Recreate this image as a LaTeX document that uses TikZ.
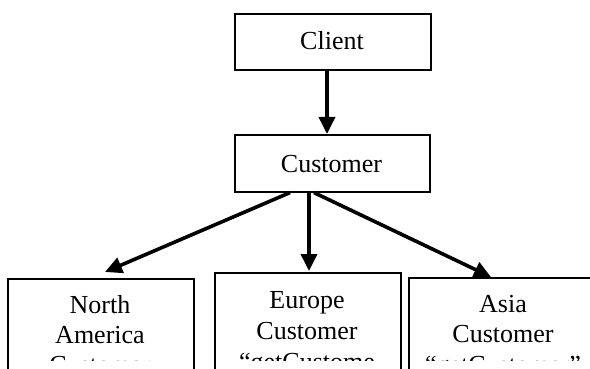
\documentclass[tikz,border=0pt]{standalone}
\usepackage{fontspec}
\setmainfont{Liberation Serif}
\usetikzlibrary{arrows.meta}
\tikzset{
  boxnode/.style={draw=black, line width=1.6pt, fill=white, inner sep=0pt, anchor=north west},
  txt/.style={inner sep=0pt, anchor=base, font=\fontsize{26}{30}\selectfont},
  conn/.style={line width=3.6pt, -{Triangle[length=17pt,width=16pt]}}
}
\begin{document}
\begin{tikzpicture}[x=1pt,y=-1pt]
\useasboundingbox (0,0) rectangle (590,369);
\clip (0,0) rectangle (590,369);
\fill[white] (0,0) rectangle (590,369);
% boxes
\node[boxnode, minimum width=196pt, minimum height=56pt] (client) at (234,13) {};
\node[boxnode, minimum width=195pt, minimum height=57pt] (cust) at (234,134) {};
\node[boxnode, minimum width=186pt, minimum height=200pt] (na) at (7,278) {};
\node[boxnode, minimum width=186pt, minimum height=200pt] (eu) at (214,272) {};
\node[boxnode, minimum width=190pt, minimum height=200pt] (as) at (408,277) {};
% top texts
\node[txt] (tclient) at (332,50) {Client};
\node[txt] (tcust) at (331.5,172) {Customer};
% bottom texts, clipped like the text boxes
\begin{scope}
\clip (0,0) rectangle (590,360);
\node[txt] (na1) at (100,313) {North};
\node[txt] (na2) at (100,343) {America};
\node[txt] (na3) at (100,373) {Customer};
\node[txt] (eu1) at (307,308) {Europe};
\node[txt] (eu2) at (307,339) {Customer};
\node[txt] (eu3) at (307,370) {“getCustome};
\node[txt] (as1) at (503,312) {Asia};
\node[txt] (as2) at (503,342) {Customer};
\node[txt] (as3) at (503,373) {“getCustomer”};
\end{scope}
% connectors
\draw[conn] ([xshift=93pt]client.south west) -- ([xshift=93pt]cust.north west);
\draw[conn] ([xshift=56pt]cust.south west) -- ([xshift=98pt,yshift=6pt]na.north west);
\draw[conn] ([xshift=75pt]cust.south west) -- ([xshift=95pt,yshift=1pt]eu.north west);
\draw[conn] ([xshift=80pt]cust.south west) -- ([xshift=83pt]as.north west);
\end{tikzpicture}
\end{document}
